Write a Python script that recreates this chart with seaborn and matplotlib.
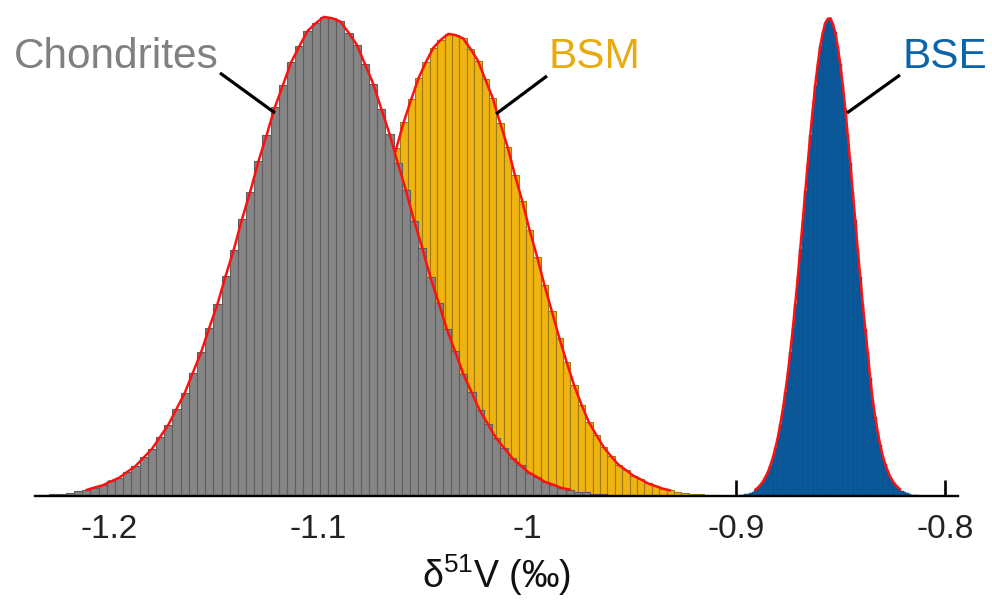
import numpy as np
import pandas as pd
import matplotlib
matplotlib.use("Agg")
import matplotlib.pyplot as plt
import seaborn as sns

# Bin counts (left to right) for each vanadium isotope reservoir
chondrites_counts = [
    5, 10, 13, 17, 25, 33, 48, 60, 85, 107,
    146, 183, 242, 300, 386, 471, 592, 712, 872, 1031,
    1236, 1438, 1684, 1922, 2205, 2470, 2773, 3049, 3352, 3615,
    3893, 4118, 4347, 4506, 4660, 4738, 4801,
    4787, 4755, 4644, 4523, 4330, 4133, 3879, 3630, 3338, 3064,
    2759, 2486, 2191, 1937, 1671, 1450, 1224, 1044, 861, 722,
    581, 481, 378, 307, 235, 190, 140, 112, 80, 64,
    44, 36, 22, 19, 11, 10, 5,
]
bsm_counts = [
    6, 8, 13, 16, 25, 31, 45, 59, 81, 105,
    139, 178, 232, 291, 370, 457, 568, 694, 834, 1003,
    1185, 1395, 1620, 1858, 2122, 2386, 2671, 2945, 3230, 3491,
    3752, 3976, 4190, 4351, 4493, 4572, 4630,
    4618, 4585, 4481, 4362, 4176, 3988, 3739, 3502, 3216, 2956,
    2661, 2398, 2112, 1850, 1585, 1342, 1110, 915, 740, 612,
    489, 398, 313, 260, 204, 167, 126, 100, 73, 57,
    40, 31, 21, 17, 10, 8, 5,
]
bse_counts = [
    5, 10, 11, 19, 23, 35, 45, 63, 82, 110,
    142, 187, 236, 305, 379, 477, 584, 718, 863, 1038,
    1226, 1443, 1672, 1928, 2190, 2476, 2758, 3053, 3336, 3618,
    3875, 4121, 4326, 4508, 4640, 4739, 4782,
    4786, 4733, 4645, 4502, 4331, 4115, 3880, 3614, 3340, 3047,
    2762, 2470, 2196, 1923, 1676, 1438, 1180, 960, 790, 640,
    510, 400, 320, 250, 190, 150, 115, 88, 65, 50,
    38, 28, 20, 14, 10, 7, 5,
]

# First bin edge and bin width (per mil) of each histogram
chondrites_bins = (-1.24024, 0.00392)
bsm_bins = (-1.16688, 0.00354)
bse_bins = (-0.89975, 0.001196)

reservoir_names = ["Chondrites", "BSM", "BSE"]
tick_values = [-1.2, -1.1, -1.0, -0.9, -0.8]
tick_labels = ["-1.2", "-1.1", "-1", "-0.9", "-0.8"]

sns.set_theme(style="white")
plt.rcParams["font.family"] = ["Liberation Sans", "DejaVu Sans"]
plt.rcParams["mathtext.fontset"] = "custom"
plt.rcParams["mathtext.rm"] = "Liberation Sans"
plt.rcParams["mathtext.default"] = "regular"

fig = plt.figure(figsize=(9.92, 6.08), dpi=100)
ax = fig.add_axes([35 / 992, 112 / 608, 923 / 992, 491 / 608])


def draw_reservoir(counts, bins, face, edge, lw, z):
    start, width = bins
    n = np.asarray(counts, dtype=float)
    edges = start + width * np.arange(len(n) + 1)
    table = pd.DataFrame({"value": edges[:-1] + width / 2, "count": n})
    sns.histplot(data=table, x="value", weights="count", bins=list(edges),
                 color=face, edgecolor=edge, linewidth=lw, alpha=1.0,
                 ax=ax, zorder=z)
    # fitted density outline over the well-populated part of the histogram
    core = table[table["count"] >= 0.011 * table["count"].max()]
    sns.lineplot(data=core, x="value", y="count", color="#ff1010",
                 linewidth=1.8, ax=ax, zorder=z + 1)


draw_reservoir(bsm_counts, bsm_bins, "#EFB410", "#9C7A14", 0.8, 1)
draw_reservoir(chondrites_counts, chondrites_bins, "#858585", "#5E5E5E", 0.8, 3)
draw_reservoir(bse_counts, bse_bins, "#0B5A9C", "#0A4F8C", 0.3, 5)

ax.set_xlim(-1.23541, -0.79378)
ax.set_ylim(0, 4920)

# labels with leader lines
label_colors = ["#808080", "#E9AA0E", "#0B64A8"]
ax.text(-1.14737, 4289, reservoir_names[0], color=label_colors[0],
        fontsize=30.5, ha="right", va="baseline")
ax.text(-0.98950, 4289, reservoir_names[1], color=label_colors[1],
        fontsize=30.5, ha="left", va="baseline")
ax.text(-0.82057, 4289, reservoir_names[2], color=label_colors[2],
        fontsize=30.5, ha="left", va="baseline")
for (x0, y0), (x1, y1) in [((-1.14689, 4239), (-1.12057, 3838)),
                           ((-0.99043, 4209), (-1.01483, 3828)),
                           ((-0.82153, 4219), (-0.84689, 3838))]:
    ax.plot([x0, x1], [y0, y1], color="black", linewidth=2.3,
            solid_capstyle="butt", zorder=8)

ax.set_xticks(tick_values)
ax.set_xticklabels(tick_labels)
ax.set_yticks([])
ax.set_ylabel("")
ax.set_xlabel(r"δ$^{51}$V (‰)", fontsize=27, labelpad=5, color="#111111")
ax.tick_params(axis="x", direction="in", length=11.5, width=1.9,
               color="black", labelsize=24, pad=13, bottom=True,
               labelcolor="#222222")
for side in ["top", "right", "left"]:
    ax.spines[side].set_visible(False)
ax.spines["bottom"].set_linewidth(1.7)
ax.spines["bottom"].set_color("black")
ax.spines["bottom"].set_zorder(10)
ax.set_facecolor("white")

fig.savefig("out.png", dpi=100, facecolor="white")
